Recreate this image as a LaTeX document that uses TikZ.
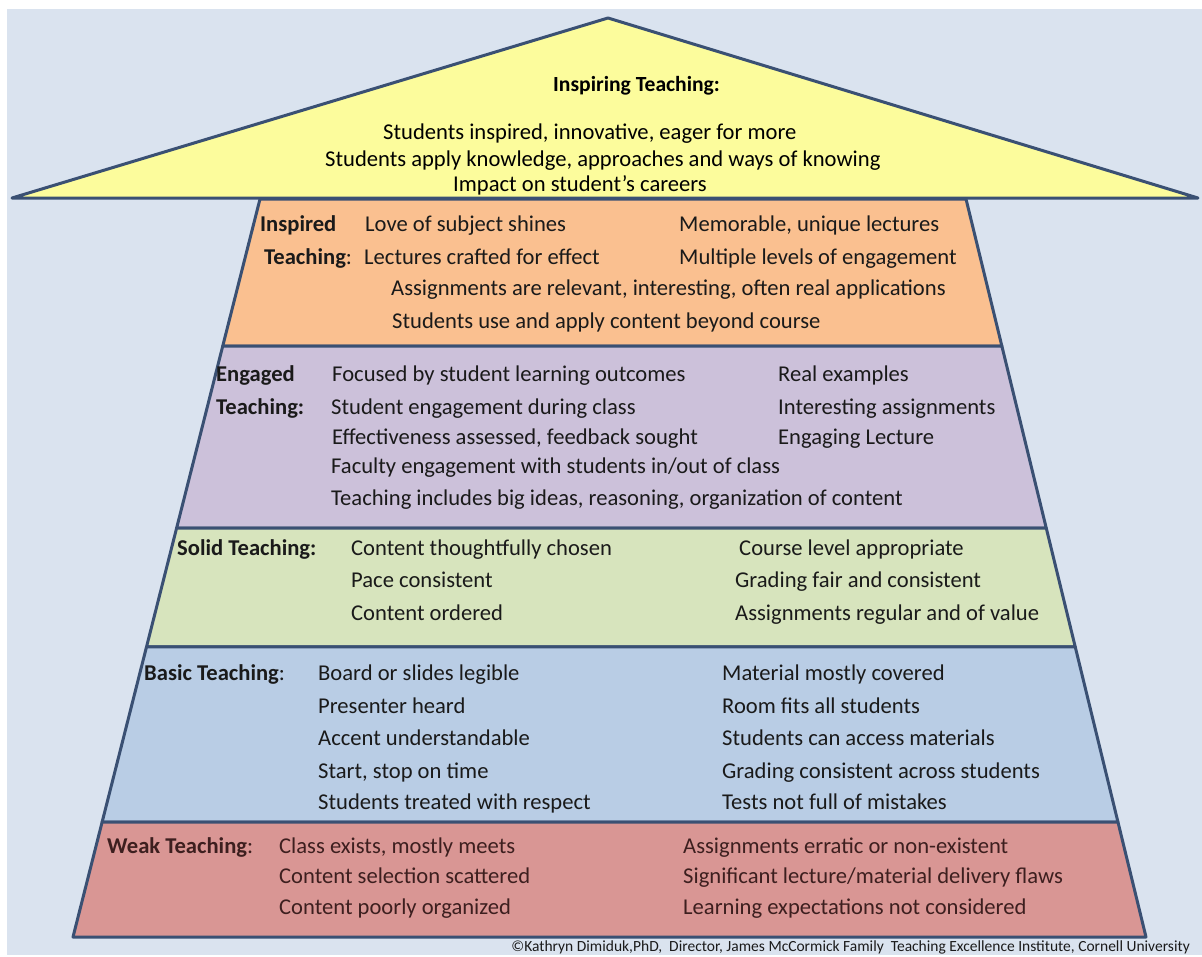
\documentclass[tikz,border=0pt]{standalone}
\usepackage{fontspec}
\setmainfont{Carlito}
\usepackage{tikz}
\usetikzlibrary{calc}
\definecolor{bgblue}{HTML}{DAE3EF}
\definecolor{roofyellow}{HTML}{FCFC9C}
\definecolor{orangeL}{HTML}{FAC090}
\definecolor{purpleL}{HTML}{CCC1DA}
\definecolor{greenL}{HTML}{D7E4BD}
\definecolor{blueL}{HTML}{B9CDE5}
\definecolor{redL}{HTML}{D99694}
\definecolor{outline}{HTML}{3A5073}
\definecolor{textgrey}{HTML}{1A1A1A}
\definecolor{textred}{HTML}{3D1F1F}
\tikzset{
layer/.style={
  draw=outline,
  line width=3pt,
  line join=round
},
item/.style={
  anchor=west,
  inner sep=0pt,
  text height=1.5ex,
  text depth=.25ex,
  text=textgrey,
  font=\fontsize{22.6}{26}\selectfont
},
head/.style={item,font=\fontsize{22.6}{26}\selectfont\bfseries},
}

\begin{document}
\begin{tikzpicture}[x=1pt,y=-1pt]
\useasboundingbox (0,0) rectangle (1202,956);
\fill[white] (0,0) rectangle (1202,956);
\fill[bgblue] (7,9) rectangle (1202,955);
% the trunk corners
\coordinate (tl) at (260,199);
\coordinate (tr) at (966,199);
\coordinate (bl) at (73,937);
\coordinate (br) at (1146,937);
% the layers
\foreach \ta/\tb/\col in {0/0.1992/orangeL, 0.1992/0.4458/purpleL,
  0.4458/0.6070/greenL, 0.6070/0.8442/blueL, 0.8442/1/redL}
{
  \filldraw[layer,fill=\col]
    ($(tl)!\ta!(bl)$) -- ($(tr)!\ta!(br)$) --
    ($(tr)!\tb!(br)$) -- ($(tl)!\tb!(bl)$) -- cycle;
}
% the roof
\filldraw[layer,fill=roofyellow] (12,198) -- (608,18) -- (1198,198) -- cycle;
\begin{scope}[yshift=-4pt]
\node[head,text=black,font=\fontsize{21.6}{26}\selectfont\bfseries] (roof-head) at (553,85) {Inspiring Teaching:};
\node[item,text=black] (roof-1) at (383,133) {Students inspired, innovative, eager for more};
\node[item,text=black] (roof-2) at (325,160) {Students apply knowledge, approaches and ways of knowing};
\node[item,text=black] (roof-3) at (453,185) {Impact on student’s careers};
% inspired
\node[head] (insp-h1) at (260,225) {Inspired};
\node[item] (insp-h2) at (264,258) {\textbf{Teaching}:};
\node[item] (insp-1) at (365,225) {Love of subject shines};
\node[item] (insp-2) at (364,258) {Lectures crafted for effect};
\node[item] (insp-3) at (679,225) {Memorable, unique lectures};
\node[item] (insp-4) at (679,258) {Multiple levels of engagement};
\node[item] (insp-5) at (391,289) {Assignments are relevant, interesting, often real applications};
\node[item] (insp-6) at (392,322) {Students use and apply content beyond course};
% engaged
\node[head] (eng-h1) at (216,375) {Engaged};
\node[head] (eng-h2) at (216,408) {Teaching:};
\node[item] (eng-1) at (332,375) {Focused by student learning outcomes};
\node[item] (eng-2) at (331,408) {Student engagement during class};
\node[item] (eng-3) at (332,438) {Effectiveness assessed, feedback sought};
\node[item] (eng-4) at (331,467) {Faculty engagement with students in/out of class};
\node[item] (eng-5) at (331,499) {Teaching includes big ideas, reasoning, organization of content};
\node[item] (eng-6) at (778,375) {Real examples};
\node[item] (eng-7) at (778,408) {Interesting assignments};
\node[item] (eng-8) at (778,438) {Engaging Lecture};
% solid
\node[head] (sol-h) at (177,549) {Solid Teaching:};
\node[item] (sol-1) at (351,549) {Content thoughtfully chosen};
\node[item] (sol-2) at (351,581) {Pace consistent};
\node[item] (sol-3) at (351,614) {Content ordered};
\node[item] (sol-4) at (739,549) {Course level appropriate};
\node[item] (sol-5) at (735,581) {Grading fair and consistent};
\node[item] (sol-6) at (735,614) {Assignments regular and of value};
% basic
\node[item] (bas-h) at (144,674) {\textbf{Basic Teaching}:};
\foreach \y/\l/\r [count=\i] in {674/Board or slides legible/Material mostly covered,
  707/Presenter heard/Room fits all students,
  739/Accent understandable/Students can access materials,
  772/{Start, stop on time}/Grading consistent across students,
  803/Students treated with respect/Tests not full of mistakes}
{
  \node[item] (bas-l\i) at (318,\y) {\l};
  \node[item] (bas-r\i) at (722,\y) {\r};
}
% weak
\node[item,text=textred] (weak-h) at (107,847) {\textbf{Weak Teaching}:};
\foreach \y/\l/\r [count=\i] in {847/{Class exists, mostly meets}/{Assignments erratic or non-existent},
  877/{Content selection scattered}/{Significant lecture/material delivery flaws},
  908/{Content poorly organized}/{Learning expectations not considered}}
{
  \node[item,text=textred] (weak-l\i) at (279,\y) {\l};
  \node[item,text=textred] (weak-r\i) at (683,\y) {\r};
}
% the credit line
\node[item,anchor=east,font=\fontsize{15.5}{18}\selectfont] (credit) at (1190,945)
  {©Kathryn Dimiduk,PhD, \ Director, James McCormick Family \ Teaching Excellence Institute, Cornell University};
\end{scope}
\end{tikzpicture}
\end{document}
